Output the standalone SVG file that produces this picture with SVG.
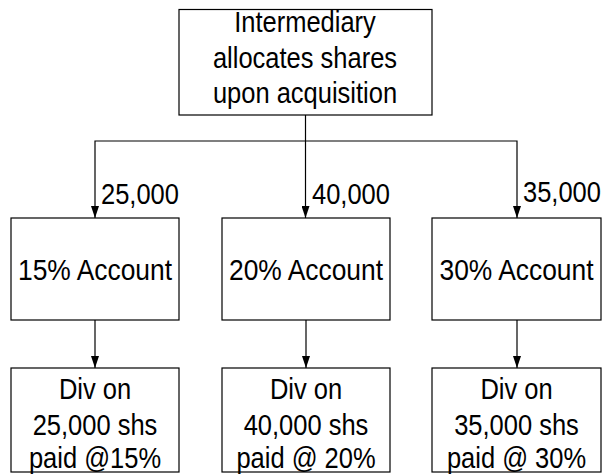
<svg xmlns="http://www.w3.org/2000/svg" width="608" height="474" viewBox="0 0 608 474">
<style>
.box{fill:#fff;stroke:#000;stroke-width:1.2}
.t{font-family:"Liberation Sans",Arial,sans-serif;font-size:30px;fill:#000}
.c{text-anchor:middle}
.ln{fill:none;stroke:#000;stroke-width:1.2}
</style>
<defs>
<marker id="arr" viewBox="0 0 12 8" refX="12" refY="4" markerWidth="12" markerHeight="8" markerUnits="userSpaceOnUse" orient="auto">
<path d="M0,0 L12,4 L0,8 Z" fill="#000"/>
</marker>
</defs>
<rect width="608" height="474" fill="#fff"/>
<g id="connectors">
<line class="ln" x1="305.5" y1="115" x2="305.5" y2="218" marker-end="url(#arr)"/>
<polyline class="ln" points="305.5,141 95,141 95,218" marker-end="url(#arr)"/>
<polyline class="ln" points="305.5,141 517,141 517,218" marker-end="url(#arr)"/>
<line class="ln" x1="95" y1="320" x2="95" y2="368" marker-end="url(#arr)"/>
<line class="ln" x1="306" y1="320" x2="306" y2="368" marker-end="url(#arr)"/>
<line class="ln" x1="517" y1="320" x2="517" y2="368" marker-end="url(#arr)"/>
<text class="t" transform="matrix(.85 0 0 1 101 204)">25,000</text>
<text class="t" transform="matrix(.85 0 0 1 312 204)">40,000</text>
<text class="t" transform="matrix(.85 0 0 1 523 202)">35,000</text>
</g>
<g id="top">
<rect class="box" x="179" y="9.5" width="253" height="105.5"/>
<text class="t c" transform="matrix(.85 0 0 1 305 32)">Intermediary</text>
<text class="t c" transform="matrix(.85 0 0 1 305 68)">allocates shares</text>
<text class="t c" transform="matrix(.85 0 0 1 305 103)">upon acquisition</text>
</g>
<g id="acc15">
<rect class="box" x="11" y="218" width="168" height="102"/>
<text class="t c" transform="matrix(.88 0 0 1 95 280)">15% Account</text>
</g>
<g id="acc20">
<rect class="box" x="222" y="218" width="168" height="102"/>
<text class="t c" transform="matrix(.88 0 0 1 306 280)">20% Account</text>
</g>
<g id="acc30">
<rect class="box" x="432" y="218" width="169" height="102"/>
<text class="t c" transform="matrix(.88 0 0 1 516.5 280)">30% Account</text>
</g>
<g id="div15">
<rect class="box" x="11" y="368" width="168" height="104"/>
<text class="t c" transform="matrix(.85 0 0 1 95 399)">Div on</text>
<text class="t c" transform="matrix(.85 0 0 1 95 435)">25,000 shs</text>
<text class="t c" transform="matrix(.85 0 0 1 95 468)">paid @15%</text>
</g>
<g id="div20">
<rect class="box" x="222" y="368" width="168" height="104"/>
<text class="t c" transform="matrix(.85 0 0 1 306 399)">Div on</text>
<text class="t c" transform="matrix(.85 0 0 1 306 435)">40,000 shs</text>
<text class="t c" transform="matrix(.85 0 0 1 306 468)">paid @ 20%</text>
</g>
<g id="div30">
<rect class="box" x="432" y="368" width="169" height="104"/>
<text class="t c" transform="matrix(.85 0 0 1 516.5 399)">Div on</text>
<text class="t c" transform="matrix(.85 0 0 1 516.5 435)">35,000 shs</text>
<text class="t c" transform="matrix(.85 0 0 1 516.5 468)">paid @ 30%</text>
</g>
</svg>
